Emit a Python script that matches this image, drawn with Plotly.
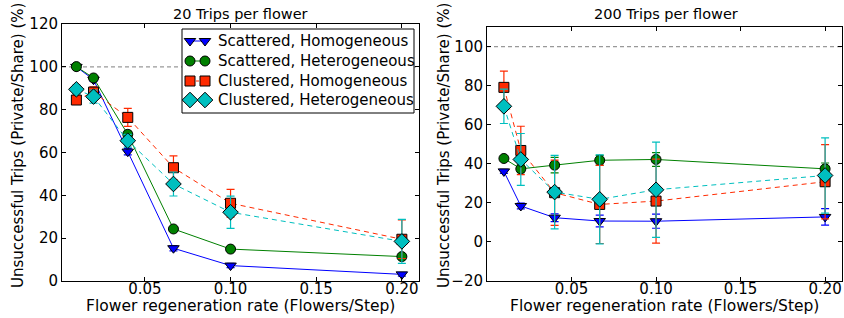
import plotly.graph_objects as go

# Data
rates = [0.01, 0.02, 0.04, 1/15, 0.10, 0.20]
series_names = ["Scattered, Homogeneous", "Scattered, Heterogeneous",
                "Clustered, Homogeneous", "Clustered, Heterogeneous"]

# 20 trips per flower
t20_sc_hom = [100.0, 94.0, 60.4, 15.3, 7.2, 3.1]
t20_sc_hom_err = [0.5, 0.8, 1.5, 1.2, 1.0, 0.8]
t20_sc_het = [100.1, 94.8, 68.5, 24.3, 14.9, 11.4]
t20_sc_het_err = [0.5, 0.8, 1.5, 1.0, 1.0, 1.0]
t20_cl_hom = [84.5, 88.2, 76.4, 52.9, 36.3, 19.5]
t20_cl_hom_err = [2.0, 2.5, 4.2, 5.5, 6.5, 9.0]
t20_cl_het = [89.5, 86.1, 65.5, 45.3, 32.1, 18.5]
t20_cl_het_err = [2.0, 3.0, 3.0, 5.6, 7.5, 10.3]

# 200 trips per flower
t200_sc_hom = [36.1, 18.4, 12.4, 10.7, 10.6, 12.8]
t200_sc_hom_err = [1.0, 1.5, 2.0, 3.0, 3.6, 4.2]
t200_sc_het = [42.7, 37.4, 39.3, 41.8, 42.2, 37.4]
t200_sc_het_err = [1.0, 2.0, 4.0, 2.5, 3.5, 3.0]
t200_cl_hom = [79.1, 46.8, 25.2, 19.2, 20.9, 30.8]
t200_cl_hom_err = [8.3, 12.4, 16.7, 20.0, 21.5, 19.0]
t200_cl_het = [69.4, 42.2, 25.5, 21.8, 26.7, 34.0]
t200_cl_het_err = [8.8, 13.3, 18.8, 22.8, 24.4, 19.3]

y_ticks_20 = [0, 20, 40, 60, 80, 100, 120]
y_ticks_200 = [-20, 0, 20, 40, 60, 80, 100]
x_ticks = [0.05, 0.10, 0.15, 0.20]

BLUE = "#0000ff"
GREEN = "#008000"
RED = "#ff2a00"
CYAN = "#00bfbf"

styles = [
    dict(color=BLUE, symbol="triangle-down", dash="solid", size=10),
    dict(color=GREEN, symbol="circle", dash="solid", size=10),
    dict(color=RED, symbol="square", dash="5px,4px", size=10),
    dict(color=CYAN, symbol="diamond", dash="5px,4px", size=12),
]

FONT = "DejaVu Sans"
TICK_SIZE = 15
W, H = 844, 318

# panel geometry (pixels) and ranges
P1 = dict(l=62, r=419, t=24, b=281, xr=[0.0016, 0.21], yr=[0, 120])
P2 = dict(l=487, r=842, t=27, b=281, xr=[0.0, 0.21], yr=[-20, 110])

fig = go.Figure()

panels = [
    ("x", "y", [t20_sc_hom, t20_sc_het, t20_cl_hom, t20_cl_het],
     [t20_sc_hom_err, t20_sc_het_err, t20_cl_hom_err, t20_cl_het_err]),
    ("x2", "y2", [t200_sc_hom, t200_sc_het, t200_cl_hom, t200_cl_het],
     [t200_sc_hom_err, t200_sc_het_err, t200_cl_hom_err, t200_cl_het_err]),
]

shapes = []
for xa, ya, vals, errs in panels:
    # reference line at 100% (dashed grey)
    shapes.append(dict(type="line", xref=f"{xa} domain", yref=ya, layer="below",
                       x0=0, x1=1, y0=100, y1=100,
                       line=dict(color="#999999", width=1.3, dash="4px,3px")))
    for name, v, e, st in zip(series_names, vals, errs, styles):
        fig.add_trace(go.Scatter(
            x=rates, y=v, xaxis=xa, yaxis=ya, name=name, showlegend=False,
            mode="lines+markers",
            line=dict(color=st["color"], width=1, dash=st["dash"]),
            marker=dict(symbol=st["symbol"], size=st["size"], color=st["color"],
                        line=dict(color="black", width=1)),
            error_y=dict(type="data", array=e, color=st["color"], thickness=1.2, width=4),
        ))

# ---- matplotlib-style legend (box + two-marker keys) inside the left panel ----
LEG_BOX = dict(x0=182, x1=414, y0=29, y1=113)   # pixels
LEG_ROWS = [41, 61, 81, 100]
LEG_KEY_X = [190, 205]
LEG_TEXT_X = 216


def px_to_x(px):
    return P1["xr"][0] + (px - P1["l"]) / (P1["r"] - P1["l"]) * (P1["xr"][1] - P1["xr"][0])


def py_to_y(py):
    return P1["yr"][0] + (P1["b"] - py) / (P1["b"] - P1["t"]) * (P1["yr"][1] - P1["yr"][0])


box_dom = dict(x0=(LEG_BOX["x0"] - P1["l"]) / (P1["r"] - P1["l"]),
               x1=(LEG_BOX["x1"] - P1["l"]) / (P1["r"] - P1["l"]),
               y0=(P1["b"] - LEG_BOX["y1"]) / (P1["b"] - P1["t"]),
               y1=(P1["b"] - LEG_BOX["y0"]) / (P1["b"] - P1["t"]))
# white fill below the keys (hides the 100% line), black frame above everything
shapes.append(dict(type="rect", xref="x domain", yref="y domain", layer="below",
                   fillcolor="white", line=dict(width=0), **box_dom))
shapes.append(dict(type="rect", xref="paper", yref="paper", layer="above",
                   x0=LEG_BOX["x0"] / W, x1=LEG_BOX["x1"] / W,
                   y0=1 - LEG_BOX["y1"] / H, y1=1 - LEG_BOX["y0"] / H,
                   fillcolor="rgba(0,0,0,0)", line=dict(color="black", width=1)))
annotations = []
for name, st, row in zip(series_names, styles, LEG_ROWS):
    fig.add_trace(go.Scatter(
        x=[px_to_x(p) for p in LEG_KEY_X], y=[py_to_y(row)] * 2, xaxis="x", yaxis="y",
        mode="lines+markers",
        line=dict(color=st["color"], width=1, dash="3px,3px" if st["dash"] != "solid" else "solid"),
        marker=dict(symbol=st["symbol"], size=st["size"], color=st["color"],
                    line=dict(color="black", width=1)),
        showlegend=False, hoverinfo="skip"))
    annotations.append(dict(text=name, x=LEG_TEXT_X / W, y=1 - row / H, xref="paper", yref="paper",
                            xanchor="left", yanchor="middle", showarrow=False,
                            font=dict(family=FONT, size=15, color="black")))

axis_common = dict(showline=True, linecolor="black", linewidth=1, mirror="ticks",
                   ticks="inside", ticklen=4, tickcolor="black", showgrid=False,
                   zeroline=False, automargin=False,
                   tickfont=dict(family=FONT, size=TICK_SIZE, color="black"))

XTITLE = "Flower regeneration rate (Flowers/Step)"
YTITLE = "Unsuccessful Trips (Private/Share) (%)"
for cx in (240.5, 664):
    annotations.append(dict(text=XTITLE, x=cx / W, y=1 - 306 / H, xref="paper", yref="paper",
                            xanchor="center", yanchor="middle", showarrow=False,
                            font=dict(family=FONT, size=15.5, color="black")))
for cx in (18, 444):
    annotations.append(dict(text=YTITLE, x=cx / W, y=1 - 146 / H, xref="paper", yref="paper",
                            xanchor="center", yanchor="middle", showarrow=False, textangle=-90,
                            font=dict(family=FONT, size=15, color="black")))
annotations.append(dict(text="20 Trips per flower", x=241 / W, y=1 - 14 / H, xref="paper", yref="paper",
                        xanchor="center", yanchor="middle", showarrow=False,
                        font=dict(family=FONT, size=14.5, color="black")))
annotations.append(dict(text="200 Trips per flower", x=666 / W, y=1 - 14 / H, xref="paper", yref="paper",
                        xanchor="center", yanchor="middle", showarrow=False,
                        font=dict(family=FONT, size=14.5, color="black")))

fig.update_layout(
    width=W, height=H,
    margin=dict(l=0, r=0, t=0, b=0),
    paper_bgcolor="white", plot_bgcolor="white",
    font=dict(family=FONT, color="black"),
    showlegend=False,
    xaxis=dict(domain=[P1["l"] / W, P1["r"] / W], range=P1["xr"], anchor="y",
               tickvals=x_ticks, tickformat=".2f", ticklabelstandoff=-6, **axis_common),
    yaxis=dict(domain=[(H - P1["b"]) / H, (H - P1["t"]) / H], range=P1["yr"], anchor="x",
               tickvals=y_ticks_20, **axis_common),
    xaxis2=dict(domain=[P2["l"] / W, P2["r"] / W], range=P2["xr"], anchor="y2",
                tickvals=x_ticks, tickformat=".2f", ticklabelstandoff=-6, **axis_common),
    yaxis2=dict(domain=[(H - P2["b"]) / H, (H - P2["t"]) / H], range=P2["yr"], anchor="x2",
                tickvals=y_ticks_200, **axis_common),
    shapes=shapes,
    annotations=annotations,
)

fig.write_html("out.html", config={"displayModeBar": False},
               post_script="document.body.style.margin='0';document.body.style.overflow='hidden';")
